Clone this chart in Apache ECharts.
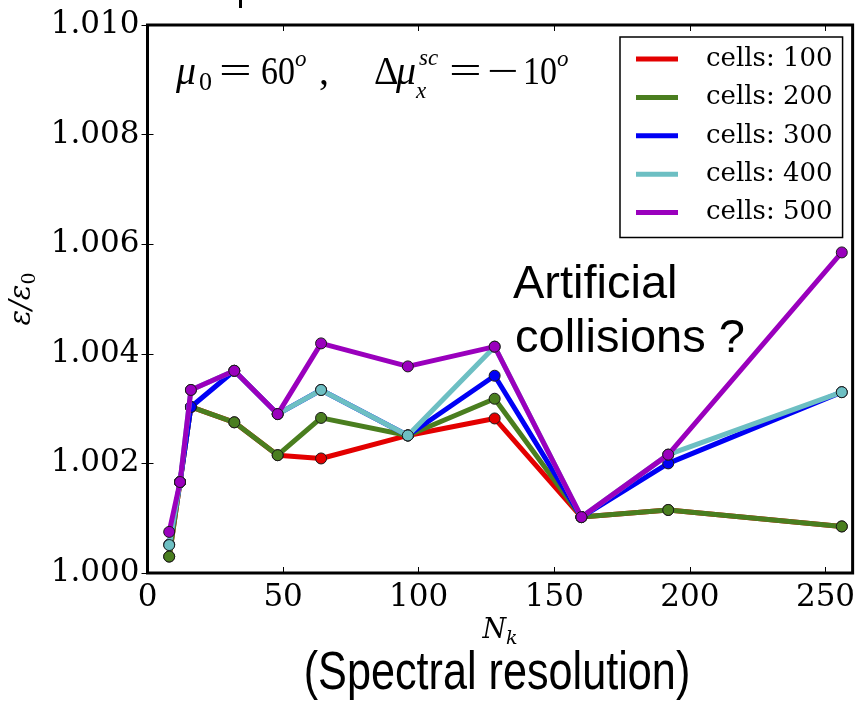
<!DOCTYPE html>
<html>
<head>
<meta charset="utf-8">
<script src="https://cdn.jsdelivr.net/npm/echarts@6/dist/echarts.min.js"></script>
<style>
  html, body { margin: 0; padding: 0; background: #fff; }
  #chart { width: 858px; height: 703px; }
</style>
</head>
<body>
<div id="chart"></div>
<script>
// Spectral resolution N_k (x) against normalized emittance (y)
const nk = [8, 12, 16, 32, 48, 64, 96, 128, 160, 192, 256];

const cells100 = [1.00030, 1.00166, 1.00303, 1.00275, 1.00215, 1.00209, 1.00251, 1.00282, 1.00102, 1.00115, 1.00085];
const cells200 = [1.00030, 1.00166, 1.00303, 1.00275, 1.00215, 1.00283, 1.00251, 1.00318, 1.00102, 1.00115, 1.00085];
const cells300 = [1.00052, 1.00166, 1.00303, 1.00369, 1.00290, 1.00334, 1.00251, 1.00360, 1.00102, 1.00200, 1.00330];
const cells400 = [1.00051, 1.00166, 1.00334, 1.00369, 1.00290, 1.00334, 1.00251, 1.00413, 1.00102, 1.00216, 1.00330];
const cells500 = [1.00075, 1.00166, 1.00334, 1.00369, 1.00290, 1.00419, 1.00377, 1.00413, 1.00102, 1.00216, 1.00585];

const seriesNames = ['cells: 100', 'cells: 200', 'cells: 300', 'cells: 400', 'cells: 500'];
const seriesValues = [cells100, cells200, cells300, cells400, cells500];
const seriesColors = ['#e30000', '#4a7e1f', '#0000f5', '#6dbfc3', '#9a00bd'];

const xTickValues = [0, 50, 100, 150, 200, 250];
const yTickValues = [1.000, 1.002, 1.004, 1.006, 1.008, 1.010];

const serif = 'DejaVu Serif';
const eqFont = 'Liberation Serif';

const chart = echarts.init(document.getElementById('chart'), null, { renderer: 'canvas' });

const tickStyle = { inside: true, length: 6, lineStyle: { color: '#000', width: 1 } };

function xLabel(v) { return xTickValues.indexOf(v) >= 0 ? String(v) : ''; }
function yLabel(v) {
  const hit = yTickValues.find(t => Math.abs(t - v) < 1e-9);
  return hit === undefined ? '' : hit.toFixed(3);
}

// pieces of the parameter annotation: [text, left x, baseline y, size, italic, horizontal scale]
const eqPieces = [
  ['\u03bc', 176, 87, 40, true, 1],
  ['0', 199, 92, 26, false, 1],
  ['=', 219, 87, 40, false, 1.45],
  ['60', 261, 87, 40, false, 0.85],
  ['o', 295, 68, 23, true, 1],
  [',', 319, 87, 40, false, 1],
  ['\u0394', 374, 87, 40, false, 0.95],
  ['\u03bc', 396, 87, 40, true, 1],
  ['sc', 419, 67, 23, true, 1],
  ['x', 416, 100, 23, true, 1],
  ['=', 449, 87, 40, false, 1.45],
  ['\u2212', 487, 87, 40, false, 1.4],
  ['10', 523, 87, 40, false, 0.85],
  ['o', 557, 68, 23, true, 1]
];

const graphics = eqPieces.map(p => ({
  type: 'text',
  x: p[1],
  y: p[2] - 0.34 * p[3],
  scaleX: p[5],
  z: 10,
  style: {
    text: p[0],
    fontFamily: eqFont,
    fontSize: p[3],
    fontStyle: p[4] ? 'italic' : 'normal',
    fill: '#000',
    align: 'left', textAlign: 'left',
    verticalAlign: 'middle', textVerticalAlign: 'middle'
  }
}));

graphics.push(
  {
    type: 'text', x: 513, y: 302 - 0.36 * 47, z: 10,
    style: { text: 'Artificial', fontFamily: 'Liberation Sans', fontSize: 47, fill: '#000',
      align: 'left', textAlign: 'left', verticalAlign: 'middle', textVerticalAlign: 'middle' }
  },
  {
    type: 'text', x: 515, y: 356 - 0.36 * 47, z: 10,
    style: { text: 'collisions ?', fontFamily: 'Liberation Sans', fontSize: 47, fill: '#000',
      align: 'left', textAlign: 'left', verticalAlign: 'middle', textVerticalAlign: 'middle' }
  },
  {
    type: 'text', x: 497, y: 694 - 0.36 * 54, z: 10, scaleX: 0.8,
    style: { text: '(Spectral resolution)', fontFamily: 'Liberation Sans', fontSize: 54, fill: '#000',
      align: 'center', textAlign: 'center', verticalAlign: 'middle', textVerticalAlign: 'middle' }
  },
  {
    type: 'rect', z: 10,
    shape: { x: 239, y: 0, width: 3, height: 8 },
    style: { fill: '#000' }
  }
);

const option = {
  animation: false,
  backgroundColor: '#fff',
  grid: {
    left: 145, top: 25, width: 711, height: 548,
    show: true, borderColor: '#000', borderWidth: 3, backgroundColor: 'transparent',
    containLabel: false
  },
  legend: {
    orient: 'vertical',
    left: 620, top: 37,
    backgroundColor: '#fff',
    borderColor: '#000', borderWidth: 1.5, borderRadius: 0,
    padding: [9, 10, 12, 16],
    itemGap: 12.4,
    itemWidth: 42, itemHeight: 5,
    icon: 'rect',
    itemStyle: { borderWidth: 0 },
    textStyle: { fontFamily: serif, fontSize: 26, color: '#000', lineHeight: 26, padding: [0, 0, 0, 23] },
    selectedMode: false,
    data: seriesNames,
    z: 20
  },
  xAxis: [
    {
      type: 'value', position: 'bottom', min: 0, max: 260, interval: 50,
      axisLine: { show: false }, axisTick: tickStyle, splitLine: { show: false },
      axisLabel: { fontFamily: serif, fontSize: 31, color: '#000', margin: 9, formatter: xLabel },
      name: '{n|N}{k|k}', nameLocation: 'middle', nameGap: 23,
      nameTextStyle: {
        rich: {
          n: { fontFamily: serif, fontStyle: 'italic', fontSize: 27, lineHeight: 34, color: '#000' },
          k: { fontFamily: serif, fontStyle: 'italic', fontSize: 19, lineHeight: 19, verticalAlign: 'bottom', color: '#000' }
        }
      }
    },
    {
      type: 'value', position: 'top', min: 0, max: 260, interval: 50,
      axisLine: { show: false }, axisTick: tickStyle, splitLine: { show: false },
      axisLabel: { show: false }
    }
  ],
  yAxis: [
    {
      type: 'value', position: 'left', min: 1.000, max: 1.010, interval: 0.002,
      axisLine: { show: false }, axisTick: tickStyle, splitLine: { show: false },
      axisLabel: { fontFamily: serif, fontSize: 31, color: '#000', margin: 8, formatter: yLabel },
      name: '{e|\u03b5/\u03b5}{s|0}', nameLocation: 'middle', nameRotate: 90, nameGap: 108,
      nameTextStyle: {
        rich: {
          e: { fontFamily: serif, fontStyle: 'italic', fontSize: 29, lineHeight: 34, color: '#000' },
          s: { fontFamily: serif, fontSize: 19, lineHeight: 19, verticalAlign: 'bottom', color: '#000' }
        }
      }
    },
    {
      type: 'value', position: 'right', min: 1.000, max: 1.010, interval: 0.002,
      axisLine: { show: false }, axisTick: tickStyle, splitLine: { show: false },
      axisLabel: { show: false }
    }
  ],
  series: seriesNames.map((name, i) => ({
    name: name,
    type: 'line',
    xAxisIndex: 0,
    yAxisIndex: 0,
    data: nk.map((x, j) => [x, seriesValues[i][j]]),
    symbol: 'circle',
    symbolSize: 11,
    showAllSymbol: true,
    lineStyle: { color: seriesColors[i], width: 5 },
    itemStyle: { color: seriesColors[i], borderColor: '#1a1a1a', borderWidth: 1 },
    emphasis: { disabled: true },
    z: 2 + i * 0.1
  })),
  graphic: graphics
};

chart.setOption(option);
</script>
</body>
</html>
